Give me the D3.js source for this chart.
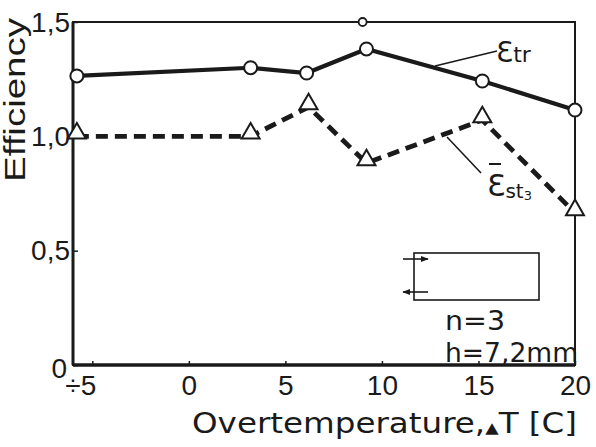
<!DOCTYPE html>
<html><head><meta charset="utf-8">
<script src="https://cdn.jsdelivr.net/npm/d3@7"></script>
<style>
html,body{margin:0;padding:0;background:#fff;}
svg{display:block;}
</style></head>
<body>
<svg id="c" width="596" height="447"></svg>
<script>
// ---- data ----
const xTr   = [-5.8, 3.2, 6.1, 9.2, 15.2, 20];
const effTr = [1.264, 1.30, 1.277, 1.382, 1.242, 1.115];
const xSt   = [-5.8, 3.2, 6.2, 9.2, 15.2, 20];
const effSt = [1.0, 1.0, 1.128, 0.883, 1.071, 0.665];
const xTicks = [-5, 0, 5, 10, 15, 20];
const xTickLabels = ["÷5", "0", "5", "10", "15", "20"];
const yTicks = [0, 0.5, 1.0, 1.5];
const yTickLabels = ["0", "0,5", "1,0", "1,5"];

const svg = d3.select("#c");
const x = d3.scaleLinear().domain([-6, 20]).range([73, 575]);
const y = d3.scaleLinear().domain([0, 1.5]).range([365, 22]);
const ink = "#1a1a1a";
const sans = "Liberation Sans, Arial, sans-serif";
const dv = "DejaVu Sans, sans-serif";

// frame
svg.append("rect").attr("x", x(-6)).attr("y", y(1.5))
  .attr("width", x(20) - x(-6)).attr("height", y(0) - y(1.5))
  .attr("fill", "none").attr("stroke", ink).attr("stroke-width", 2);
svg.append("line").attr("x1", x(-6)).attr("x2", x(-6)).attr("y1", y(1.5)).attr("y2", y(0))
  .attr("stroke", ink).attr("stroke-width", 3);
svg.append("line").attr("x1", x(-6)).attr("x2", x(20)).attr("y1", y(0)).attr("y2", y(0))
  .attr("stroke", ink).attr("stroke-width", 3.5);

// x axis
const gx = svg.append("g").attr("transform", `translate(0,${y(0)})`)
  .call(d3.axisBottom(x).tickValues(xTicks).tickSizeInner(-4).tickSizeOuter(0)
    .tickPadding(10).tickFormat((d, i) => xTickLabels[i]));
gx.select(".domain").remove();
gx.selectAll(".tick line").attr("stroke", ink).attr("stroke-width", 1.5);
gx.selectAll(".tick text").attr("fill", ink).attr("font-family", sans)
  .attr("font-size", 28).attr("dy", "0.72em")
  .attr("dx", (d, i) => i === 0 ? -12 : 0);

// y axis
const gy = svg.append("g").attr("transform", `translate(${x(-6)},0)`)
  .call(d3.axisLeft(y).tickValues(yTicks).tickSizeInner(-5).tickSizeOuter(0)
    .tickPadding(3).tickFormat((d, i) => yTickLabels[i]));
gy.select(".domain").remove();
gy.selectAll(".tick line").attr("stroke", ink).attr("stroke-width", 1.5);
gy.selectAll(".tick text").attr("fill", ink).attr("font-family", sans)
  .attr("font-size", 28).attr("dy", (d) => d === 0 ? "0.45em" : "0.33em")
  .attr("dx", (d) => d === 0 ? -3 : 0);

// axis titles
const t = svg.append("text").attr("x", 192).attr("y", 433)
  .attr("font-family", dv).attr("font-size", 28)
  .attr("fill", ink).attr("textLength", 385).attr("lengthAdjust", "spacingAndGlyphs");
t.append("tspan").text("Overtemperature,");
t.append("tspan").attr("font-size", 15).text("▲");
t.append("tspan").text("T [C]");

svg.append("text").attr("transform", "translate(25,182) rotate(-90)")
  .attr("font-family", sans).attr("font-size", 29)
  .attr("fill", ink).attr("textLength", 164).attr("lengthAdjust", "spacingAndGlyphs")
  .text("Efficiency");

// series
const tr = xTr.map((v, i) => [v, effTr[i]]);
const st = xSt.map((v, i) => [v, effSt[i]]);
const line = d3.line().x(d => x(d[0])).y(d => y(d[1]));

svg.append("path").attr("d", line(tr)).attr("fill", "none")
  .attr("stroke", ink).attr("stroke-width", 4.2);
svg.append("path").attr("d", line(st)).attr("fill", "none")
  .attr("stroke", ink).attr("stroke-width", 4.8).attr("stroke-dasharray", "12,7");

svg.selectAll("circle.tr").data(tr).join("circle").attr("class", "tr")
  .attr("cx", d => x(d[0])).attr("cy", d => y(d[1])).attr("r", 6.5)
  .attr("fill", "#fff").attr("stroke", ink).attr("stroke-width", 2);

const tri = d3.symbol().type(d3.symbolTriangle).size(140);
svg.selectAll("path.st").data(st).join("path").attr("class", "st")
  .attr("d", tri).attr("transform", d => `translate(${x(d[0])},${y(d[1]) - 3})`)
  .attr("fill", "#fff").attr("stroke", ink).attr("stroke-width", 2);

// small extra marker at top frame
svg.append("circle").attr("cx", x(9.0)).attr("cy", y(1.5)).attr("r", 4)
  .attr("fill", "#fff").attr("stroke", ink).attr("stroke-width", 1.8);

// series labels with leader lines
svg.append("line").attr("x1", 435).attr("y1", 66).attr("x2", 497).attr("y2", 51)
  .attr("stroke", ink).attr("stroke-width", 1.6);
const l1 = svg.append("text").attr("x", 496).attr("y", 62)
  .attr("font-family", dv).attr("fill", ink);
l1.append("tspan").attr("font-size", 28).text("Ɛ");
l1.append("tspan").attr("font-size", 22).text("tr");

svg.append("line").attr("x1", 447).attr("y1", 137).attr("x2", 481).attr("y2", 173)
  .attr("stroke", ink).attr("stroke-width", 1.6);
const l2 = svg.append("text").attr("x", 487).attr("y", 196)
  .attr("font-family", dv).attr("fill", ink);
l2.append("tspan").attr("font-size", 30).text("Ɛ");
l2.append("tspan").attr("font-size", 20).attr("dy", 2).text("st");
l2.append("tspan").attr("font-size", 13).attr("dy", 2).text("3");
svg.append("line").attr("x1", 489).attr("x2", 501).attr("y1", 164).attr("y2", 164)
  .attr("stroke", ink).attr("stroke-width", 2);

// inset sketch
svg.append("rect").attr("x", 414).attr("y", 253).attr("width", 125).attr("height", 47)
  .attr("fill", "none").attr("stroke", ink).attr("stroke-width", 1.6);
svg.append("defs").append("marker").attr("id", "ah").attr("viewBox", "0 0 10 10")
  .attr("refX", 9).attr("refY", 5).attr("markerWidth", 5).attr("markerHeight", 5)
  .attr("orient", "auto").append("path").attr("d", "M0,1 L10,5 L0,9 Z").attr("fill", ink);
svg.append("line").attr("x1", 403).attr("y1", 259).attr("x2", 428).attr("y2", 259)
  .attr("stroke", ink).attr("stroke-width", 1.6).attr("marker-end", "url(#ah)");
svg.append("line").attr("x1", 428).attr("y1", 292).attr("x2", 403).attr("y2", 292)
  .attr("stroke", ink).attr("stroke-width", 1.6).attr("marker-end", "url(#ah)");

svg.append("text").attr("x", 445).attr("y", 330)
  .attr("font-family", dv).attr("font-size", 27).attr("fill", ink)
  .attr("textLength", 60).attr("lengthAdjust", "spacingAndGlyphs").text("n=3");
svg.append("text").attr("x", 445).attr("y", 362)
  .attr("font-family", dv).attr("font-size", 27).attr("fill", ink)
  .attr("textLength", 133).attr("lengthAdjust", "spacingAndGlyphs").text("h=7,2mm");
</script>
</body></html>
